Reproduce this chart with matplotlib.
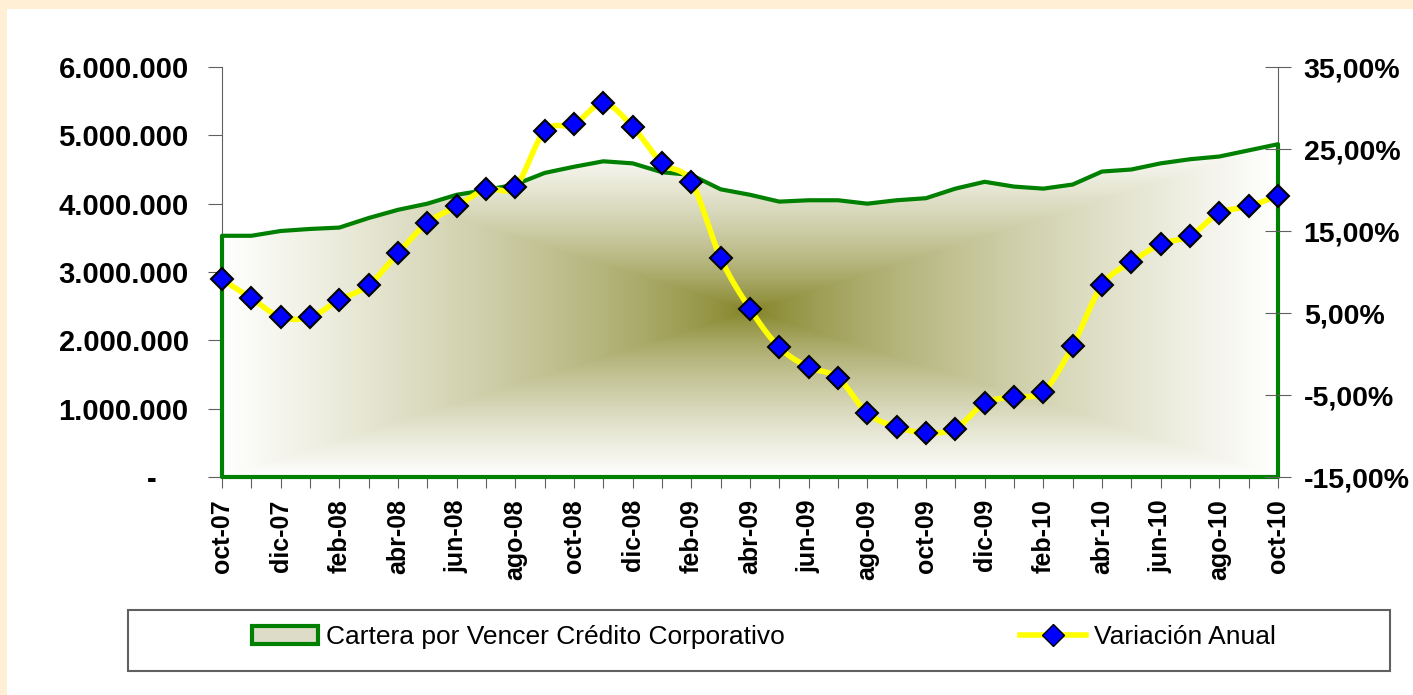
import numpy as np
import matplotlib
matplotlib.use('Agg')
import matplotlib.pyplot as plt
from matplotlib.patches import Polygon, Rectangle, Patch
from matplotlib.lines import Line2D

plt.rcParams['font.family'] = ['Liberation Sans', 'DejaVu Sans']

months = ['oct-07', 'nov-07', 'dic-07', 'ene-08', 'feb-08', 'mar-08', 'abr-08', 'may-08',
          'jun-08', 'jul-08', 'ago-08', 'sep-08', 'oct-08', 'nov-08', 'dic-08', 'ene-09',
          'feb-09', 'mar-09', 'abr-09', 'may-09', 'jun-09', 'jul-09', 'ago-09', 'sep-09',
          'oct-09', 'nov-09', 'dic-09', 'ene-10', 'feb-10', 'mar-10', 'abr-10', 'may-10',
          'jun-10', 'jul-10', 'ago-10', 'sep-10', 'oct-10']

# cartera por vencer (miles)
cartera = [3530000, 3530000, 3600000, 3630000, 3650000, 3790000, 3910000, 4000000,
           4130000, 4200000, 4280000, 4450000, 4540000, 4620000, 4590000, 4460000,
           4420000, 4210000, 4130000, 4030000, 4050000, 4050000, 4000000, 4050000,
           4080000, 4220000, 4320000, 4250000, 4220000, 4280000, 4470000, 4500000,
           4590000, 4650000, 4690000, 4780000, 4870000]

# variacion anual (%), right axis
variacion = [9.1, 6.8, 4.5, 4.5, 6.6, 8.4, 12.3, 16.0, 18.0, 20.1, 20.4, 27.2, 28.0,
             30.6, 27.7, 23.3, 21.0, 11.7, 5.5, 0.8, -1.6, -2.9, -7.2, -8.9, -9.6,
             -9.1, -6.0, -5.2, -4.6, 1.0, 8.4, 11.2, 13.4, 14.4, 17.2, 18.0, 19.3]

left_ticks = [0, 1000000, 2000000, 3000000, 4000000, 5000000, 6000000]
right_ticks = [-15, -5, 5, 15, 25, 35]

W, H = 1413, 695
fig = plt.figure(figsize=(W / 100, H / 100), dpi=100, facecolor='#FFEFD5')
# white panel, orange strip only at top and left
fig.patches.append(Rectangle((7 / W, 0), 1, (H - 9) / H, transform=fig.transFigure,
                             facecolor='white', edgecolor='none', zorder=-5))

ax = fig.add_axes([222 / W, 1 - 477 / H, (1278 - 222) / W, (477 - 67) / H])
ax.set_facecolor('none')
ax2 = ax.twinx()

x = np.arange(len(months))

# gradient area (rectangular "from center" fill)
ymax = max(cartera)
nx, ny = 500, 250
u = np.abs(np.linspace(-1, 1, nx))[None, :]
v = np.abs(np.linspace(-1, 1, ny))[:, None]
t = np.maximum(u, v) ** 0.7
olive = np.array([128, 128, 32]) / 255.0
grad = olive[None, None, :] * (1 - t[..., None]) + np.ones(3)[None, None, :] * t[..., None]

verts = [(0, 0)] + list(zip(x, cartera)) + [(x[-1], 0)]
area = Polygon(verts, closed=True, facecolor='none', edgecolor='#008000', lw=3,
               zorder=3, clip_on=False, joinstyle='round')
ax.add_patch(area)
img = ax.imshow(grad, extent=[0, x[-1], 0, ymax], origin='lower', aspect='auto',
                interpolation='bilinear', zorder=1)
img.set_clip_path(area)

ax.set_xlim(0, x[-1])
ax.set_ylim(0, 6000000)
ax.set_yticks(left_ticks)
ax.set_yticklabels(['-    ' if v == 0 else f'{v:,.0f}'.replace(',', '.') for v in left_ticks],
                   fontsize=21, fontweight='bold')
ax.set_xticks(x)
ax.set_xticklabels([m if i % 2 == 0 else '' for i, m in enumerate(months)],
                   rotation=90, fontsize=18, fontweight='bold')
ax.tick_params(axis='y', direction='out', length=10, color='#606060', pad=14)
ax.tick_params(axis='x', direction='out', length=8, color='#606060', pad=8)
ax.spines['top'].set_visible(False)
ax.spines['left'].set_color('#606060')
ax.spines['right'].set_color('#606060')
ax.spines['bottom'].set_color('#606060')

# smooth line like excel (catmull-rom through the points)
xs, ys = [], []
pts = list(zip(x, variacion))
for i in range(len(pts) - 1):
    p0 = np.array(pts[max(i - 1, 0)], float)
    p1 = np.array(pts[i], float)
    p2 = np.array(pts[i + 1], float)
    p3 = np.array(pts[min(i + 2, len(pts) - 1)], float)
    for s in np.linspace(0, 1, 12, endpoint=False):
        q = 0.5 * ((2 * p1) + (-p0 + p2) * s + (2 * p0 - 5 * p1 + 4 * p2 - p3) * s ** 2
                   + (-p0 + 3 * p1 - 3 * p2 + p3) * s ** 3)
        xs.append(q[0])
        ys.append(q[1])
xs.append(pts[-1][0])
ys.append(pts[-1][1])

ax2.plot(xs, ys, color='#FFFF00', lw=4, solid_capstyle='round', zorder=4, clip_on=False)
ax2.plot(x, variacion, ls='none', marker='D', markersize=11, markerfacecolor='#0000FF',
         markeredgecolor='black', markeredgewidth=1.5, zorder=5, clip_on=False)
ax2.set_ylim(-15, 35)
ax2.set_yticks(right_ticks)
ax2.set_yticklabels([f'{v:.2f}'.replace('.', ',') + '%' for v in right_ticks],
                    fontsize=20.5, fontweight='bold')
ax2.tick_params(axis='y', direction='inout', length=19, color='#606060', pad=9)
for s in ax2.spines.values():
    s.set_visible(False)

# legend with its own frame
fig.patches.append(Rectangle((128 / W, 1 - 671 / H), (1390 - 128) / W, (671 - 610) / H,
                             transform=fig.transFigure, facecolor='white',
                             edgecolor='#606060', lw=1.5, zorder=1))
h1 = Patch(facecolor='#dcdcc8', edgecolor='#008000', lw=3)
h2 = Line2D([], [], color='#FFFF00', lw=4, marker='D', markersize=11,
            markerfacecolor='#0000FF', markeredgecolor='black')
fig.legend([h1], ['Cartera por Vencer Crédito Corporativo'], loc='center left',
           bbox_to_anchor=(252 / W, 1 - 637 / H), frameon=False, fontsize=19,
           borderpad=0, borderaxespad=0, handlelength=2.5, handleheight=0.7,
           handletextpad=0.3)
fig.legend([h2], ['Variación Anual'], loc='center left',
           bbox_to_anchor=(1020 / W, 1 - 637 / H), frameon=False, fontsize=19,
           borderpad=0, borderaxespad=0, handlelength=2.5, handletextpad=0.3)

fig.savefig('out.png', dpi=100, facecolor=fig.get_facecolor())
